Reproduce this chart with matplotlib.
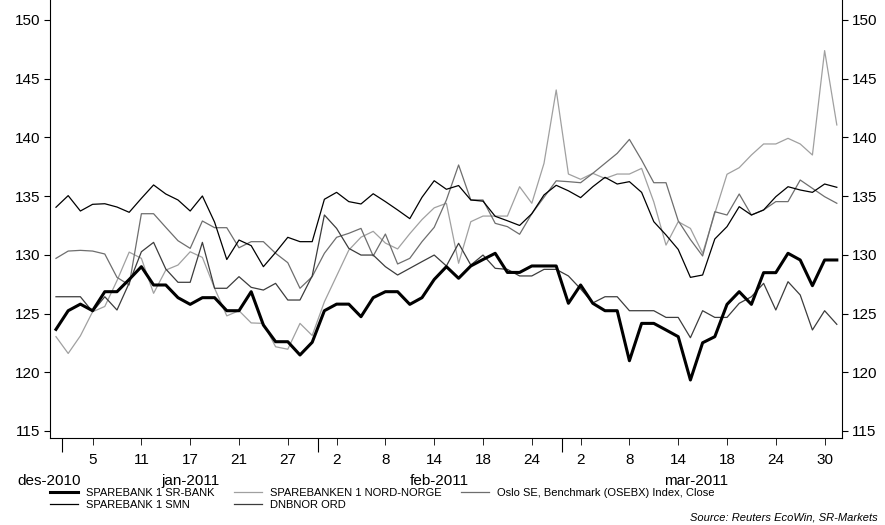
import numpy as np
import pandas as pd
import matplotlib
matplotlib.use('Agg')
import matplotlib.pyplot as plt
import matplotlib.transforms as mtransforms

plt.rcParams['font.family'] = ['Liberation Sans', 'DejaVu Sans']

# business days 31 Dec 2010 - 31 Mar 2011
dates = pd.bdate_range('2010-12-31', '2011-03-31')

sr_bank = [123.65, 125.24, 125.8, 125.24, 126.86, 126.86, 127.9, 128.99, 127.43, 127.43,
           126.35, 125.78, 126.35, 126.35, 125.24, 125.24, 126.86, 124.02, 122.6, 122.6,
           121.47, 122.55, 125.24, 125.8, 125.8, 124.73, 126.35, 126.86, 126.86, 125.78,
           126.35, 127.9, 128.99, 128.0, 129.05, 129.6, 130.13, 128.5, 128.5, 129.05,
           129.05, 129.05, 125.87, 127.43, 125.87, 125.24, 125.24, 120.98, 124.16, 124.16,
           123.6, 123.03, 119.34, 122.51, 123.03, 125.78, 126.86, 125.78, 128.48, 128.48,
           130.13, 129.56, 127.37, 129.56, 129.56]
smn = [134.05, 135.04, 133.73, 134.3, 134.35, 134.07, 133.62, 134.81, 135.95, 135.18,
       134.67, 133.73, 135.01, 132.78, 129.6, 131.26, 130.78, 128.99, 130.2, 131.49,
       131.12, 131.12, 134.73, 135.32, 134.53, 134.33, 135.2, 134.53, 133.82, 133.08,
       134.9, 136.31, 135.58, 135.9, 134.67, 134.57, 133.28, 132.9, 132.5, 133.5,
       135.1, 135.92, 135.45, 134.87, 135.8, 136.6, 136.03, 136.23, 135.32, 132.82,
       131.69, 130.46, 128.08, 128.28, 131.35, 132.4, 134.1, 133.39, 133.82, 134.95,
       135.8, 135.52, 135.32, 136.03, 135.75]
nord_norge = [123.03, 121.6, 123.1, 125.15, 125.6, 127.8, 130.23, 129.7, 126.72, 128.7,
              129.13, 130.26, 129.78, 127.15, 124.8, 125.24, 124.2, 124.16, 122.17, 121.96,
              124.16, 123.13, 126.0, 128.2, 130.4, 131.5, 132.0, 131.0, 130.5, 131.8,
              133.0, 134.0, 134.39, 129.28, 132.82, 133.3, 133.3, 133.3, 135.8, 134.39,
              137.79, 144.04, 136.88, 136.43, 136.94, 136.5, 136.88, 136.88, 137.36, 134.5,
              130.83, 132.82, 132.25, 130.13, 133.53, 136.86, 137.42, 138.5, 139.44, 139.44,
              139.92, 139.44, 138.5, 147.39, 141.06]
dnbnor = [126.43, 126.43, 126.43, 125.15, 126.43, 125.3, 127.6, 130.26, 131.06, 128.79,
          127.66, 127.66, 131.06, 127.15, 127.15, 128.14, 127.23, 127.0, 127.57, 126.15,
          126.15, 128.2, 133.39, 132.25, 130.55, 129.98, 129.98, 128.99, 128.28, 128.85,
          129.42, 129.98, 129.05, 130.98, 129.13, 129.98, 128.85, 128.76, 128.2, 128.2,
          128.76, 128.76, 128.2, 127.1, 125.9, 126.43, 126.43, 125.24, 125.24, 125.24,
          124.67, 124.67, 122.94, 125.24, 124.67, 124.67, 125.87, 126.43, 127.57, 125.3,
          127.71, 126.58, 123.6, 125.24, 124.08]
osebx = [129.7, 130.32, 130.38, 130.32, 130.07, 128.08, 127.43, 133.5, 133.5, 132.34,
         131.2, 130.55, 132.88, 132.31, 132.31, 130.6, 131.12, 131.12, 130.13, 129.33,
         127.15, 128.14, 130.13, 131.49, 131.83, 132.25, 129.9, 131.77, 129.22, 129.7,
         131.12, 132.34, 134.67, 137.65, 134.67, 134.67, 132.68, 132.4, 131.75, 133.5,
         134.9, 136.3, 136.23, 136.14, 136.94, 137.79, 138.64, 139.83, 138.07, 136.14,
         136.14, 132.9, 131.3, 129.9, 133.67, 133.39, 135.18, 133.39, 133.82, 134.53,
         134.53, 136.37, 135.66, 134.95, 134.39]

x = np.arange(len(dates))

fig = plt.figure(figsize=(8.85, 5.25), dpi=100)
ax = fig.add_axes([50 / 885, 1 - 438 / 525, 791.7 / 885, 438 / 525])

# draw order: light ones first, thick one on top
ax.plot(x, nord_norge, color='#a0a0a0', lw=0.9, label='SPAREBANKEN 1 NORD-NORGE')
ax.plot(x, osebx, color='#6e6e6e', lw=0.9, label='Oslo SE, Benchmark (OSEBX) Index, Close')
ax.plot(x, dnbnor, color='#3c3c3c', lw=0.9, label='DNBNOR ORD')
ax.plot(x, smn, color='black', lw=0.9, label='SPAREBANK 1 SMN')
ax.plot(x, sr_bank, color='black', lw=2.2, label='SPAREBANK 1 SR-BANK')

ax.set_ylim(114.4, 151.7)
ax.set_xlim(-0.49, 64.4)
ax.set_yticks(np.arange(115, 151, 5))
ax.tick_params(axis='y', which='both', direction='out', length=4, labelsize=11,
               left=True, right=True, labelleft=True, labelright=True, pad=3)

# day ticks every 4th business day, longer ticks at month changes
day_idx = list(range(3, len(dates), 4))
ax.set_xticks(day_idx, minor=True)
ax.set_xticklabels([str(dates[i].day) for i in day_idx], minor=True)
month_bounds = [0.5, 21.5, 41.5]
ax.set_xticks(month_bounds)
ax.set_xticklabels([''] * len(month_bounds))
ax.tick_params(axis='x', which='minor', direction='out', length=5, labelsize=11, pad=6)
ax.tick_params(axis='x', which='major', direction='out', length=10)

# month names under the day numbers
trans = mtransforms.blended_transform_factory(ax.transData, fig.transFigure)
month_pos = [-0.55, 11, 31.4, 52.5]
month_txt = ['des-2010', 'jan-2011', 'feb-2011', 'mar-2011']
for p, t in zip(month_pos, month_txt):
    ax.text(p, 1 - 481 / 525, t, transform=trans, ha='center', va='center',
            fontsize=11, clip_on=False)

ax.spines['top'].set_visible(False)
for s in ax.spines.values():
    s.set_linewidth(0.8)

handles, labels = ax.get_legend_handles_labels()
order = ['SPAREBANK 1 SR-BANK', 'SPAREBANK 1 SMN', 'SPAREBANKEN 1 NORD-NORGE',
         'DNBNOR ORD', 'Oslo SE, Benchmark (OSEBX) Index, Close']
hmap = dict(zip(labels, handles))
fig.legend([hmap[k] for k in order], order, ncol=3, loc='upper left',
           bbox_to_anchor=(50 / 885, 1 - 488 / 525), frameon=False, fontsize=8,
           handlelength=2.5, handletextpad=0.7, columnspacing=1.8, labelspacing=0.2,
           borderaxespad=0, borderpad=0)

fig.text(878 / 885, 1 - 518 / 525, 'Source: Reuters EcoWin, SR-Markets', ha='right',
         va='center', fontsize=8, style='italic')

fig.savefig('out.png', dpi=100)
